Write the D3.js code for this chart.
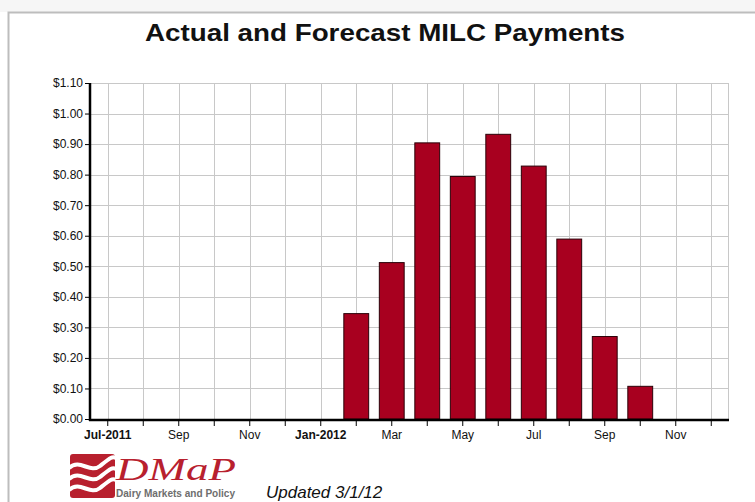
<!DOCTYPE html>
<html>
<head>
<meta charset="utf-8">
<title>Actual and Forecast MILC Payments</title>
<script src="https://cdnjs.cloudflare.com/ajax/libs/d3/7.8.5/d3.min.js"></script>
<style>
  body { margin: 0; background: #fff; }
  svg { display: block; font-family: Arial, "Liberation Sans", sans-serif; }
</style>
</head>
<body>
<script>
// months on the x axis (Jul-2011 .. Dec-2012)
const months = ["Jul-2011","Aug","Sep","Oct","Nov","Dec","Jan-2012","Feb","Mar","Apr","May","Jun","Jul","Aug2","Sep2","Oct2","Nov2","Dec2"];
const monthLabels = ["Jul-2011","","Sep","","Nov","","Jan-2012","","Mar","","May","","Jul","","Sep","","Nov",""];
const boldLabels = ["Jul-2011","Jan-2012"];
// MILC payment, $/cwt (0 = no payment)
const payments = [0,0,0,0,0,0,0,0.345,0.512,0.904,0.794,0.932,0.828,0.589,0.27,0.107,0,0];
const yTicks = [0,0.1,0.2,0.3,0.4,0.5,0.6,0.7,0.8,0.9,1.0,1.1];

const W = 755, H = 502;
const margin = {top: 83, right: 26, bottom: 83, left: 90};
const width = W - margin.left - margin.right,
      height = H - margin.top - margin.bottom;

const svg = d3.select("body").append("svg")
    .attr("width", W).attr("height", H);

// outer frame
svg.append("rect").attr("x", 0).attr("y", 0).attr("width", W).attr("height", 12).attr("fill", "#f6f6f6");
svg.append("path").attr("d", "M8.5," + H + "V12.5H" + W)
    .attr("fill", "none").attr("stroke", "#bdbdbd").attr("stroke-width", 2);

svg.append("text")
    .attr("x", 145).attr("y", 41)
    .attr("font-size", "24px").attr("font-weight", "bold").attr("fill", "#111")
    .attr("textLength", 480).attr("lengthAdjust", "spacingAndGlyphs")
    .text("Actual and Forecast MILC Payments");

const g = svg.append("g").attr("transform", "translate(" + margin.left + "," + margin.top + ")");

const x = d3.scaleBand().domain(months).range([0, width]).paddingInner(0).paddingOuter(0);
const y = d3.scaleLinear().domain([0, 1.1]).range([height, 0]);

// grid
g.append("g").selectAll("line").data(yTicks).enter().append("line")
    .attr("x1", 0).attr("x2", width)
    .attr("y1", d => Math.round(y(d)) + 0.5).attr("y2", d => Math.round(y(d)) + 0.5)
    .attr("stroke", "#c8c8c8");
g.append("g").selectAll("line").data(months).enter().append("line")
    .attr("x1", d => Math.round(x(d) + x.bandwidth() / 2) + 0.5)
    .attr("x2", d => Math.round(x(d) + x.bandwidth() / 2) + 0.5)
    .attr("y1", 0).attr("y2", height)
    .attr("stroke", "#c8c8c8");
g.append("line").attr("x1", width - 0.5).attr("x2", width - 0.5).attr("y1", 0).attr("y2", height)
    .attr("stroke", "#c8c8c8");

// bars
const bw = x.bandwidth() * 0.7;
g.selectAll(".bar").data(payments.map((v, i) => ({m: months[i], v: v})).filter(d => d.v > 0))
  .enter().append("rect")
    .attr("class", "bar")
    .attr("x", d => x(d.m) + (x.bandwidth() - bw) / 2)
    .attr("y", d => y(d.v))
    .attr("width", bw)
    .attr("height", d => height - y(d.v))
    .attr("fill", "#a8001f")
    .attr("stroke", "#2a0008").attr("stroke-width", 1);

// y axis
const yAxis = d3.axisLeft(y).tickValues(yTicks).tickSize(5).tickPadding(2)
    .tickFormat(d => "$" + d3.format(".2f")(d));
const ya = g.append("g").call(yAxis);
ya.select(".domain").remove();
ya.selectAll("text").attr("font-size", "12px").attr("fill", "#111").attr("font-family", "Arial, 'Liberation Sans', sans-serif");

// x axis
const xAxis = d3.axisBottom(x).tickSize(6).tickPadding(4).tickFormat((d, i) => monthLabels[i]);
const xa = g.append("g").attr("transform", "translate(0," + (height + 1) + ")").call(xAxis);
xa.select(".domain").remove();
xa.selectAll("text").attr("font-size", "12px").attr("fill", "#111")
    .attr("font-family", "Arial, 'Liberation Sans', sans-serif")
    .attr("font-weight", d => boldLabels.includes(d) ? "bold" : "normal");

// axis lines
g.append("line").attr("x1", 0).attr("x2", 0).attr("y1", 0).attr("y2", height + 2)
    .attr("stroke", "#000").attr("stroke-width", 2.5);
g.append("line").attr("x1", -1).attr("x2", width).attr("y1", height + 1).attr("y2", height + 1)
    .attr("stroke", "#000").attr("stroke-width", 2.5);

// logo
const logo = svg.append("g").attr("transform", "translate(70,454)");
logo.append("rect").attr("width", 45).attr("height", 44).attr("rx", 3).attr("fill", "#b8202e");
[10, 21, 32].forEach(o => {
  logo.append("path")
    .attr("d", "M-1," + (o + 4) + " C10," + (o - 6) + " 20," + (o + 10) + " 30," + (o + 2) + " S42," + (o - 8) + " 46," + (o - 6))
    .attr("fill", "none").attr("stroke", "#fff").attr("stroke-width", 4);
});
svg.append("text").attr("x", 116).attr("y", 480)
    .attr("font-family", "'Liberation Serif', 'DejaVu Serif', serif")
    .attr("font-style", "italic").attr("font-size", "31px").attr("fill", "#b8202e")
    .attr("textLength", 120).attr("lengthAdjust", "spacingAndGlyphs")
    .text("DMaP");
svg.append("text").attr("x", 116).attr("y", 497)
    .attr("font-size", "10.5px").attr("font-weight", "bold").attr("fill", "#6e6e6e")
    .attr("textLength", 119).attr("lengthAdjust", "spacingAndGlyphs")
    .text("Dairy Markets and Policy");

svg.append("text").attr("x", 266).attr("y", 498)
    .attr("font-size", "17px").attr("font-style", "italic").attr("fill", "#111")
    .text("Updated 3/1/12");
</script>
</body>
</html>
